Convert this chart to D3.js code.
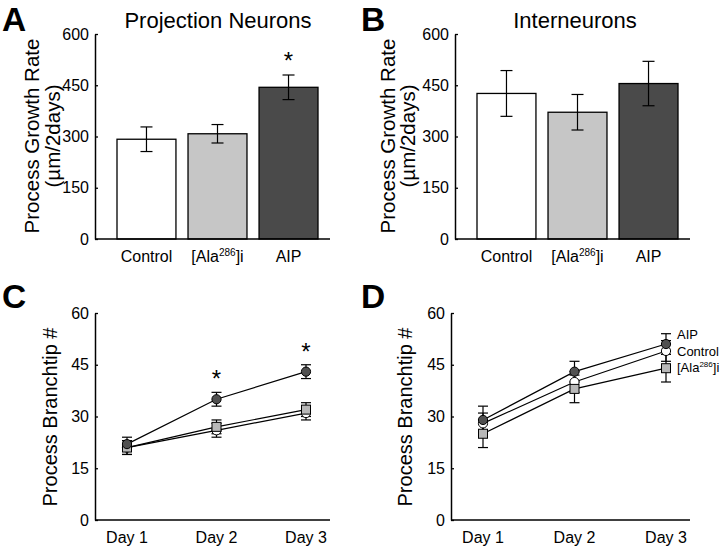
<!DOCTYPE html>
<html>
<head>
<meta charset="utf-8">
<script src="https://cdn.jsdelivr.net/npm/d3@7"></script>
<style>
  body { margin: 0; background: #fff; }
  svg { display: block; font-family: "Liberation Sans", Arial, sans-serif; }
</style>
</head>
<body>
<div id="chart"></div>
<script>
// ---- data ----
var groups = ['Control', 'Ala', 'AIP'];
var barFill = { Control: '#ffffff', Ala: '#c6c6c6', AIP: '#4a4a4a' };

// panel A: projection neurons, growth rate (um/2days)
var projRate = [292, 308, 444];
var projErr = [36, 27, 36];
// panel B: interneurons
var interRate = [426, 371, 455];
var interErr = [67, 52, 65];

var rateTicks = [0, 150, 300, 450, 600];
var countTicks = [0, 15, 30, 45, 60];
var days = ['Day 1', 'Day 2', 'Day 3'];

// panel C: projection neurons, branchtip number
var projTips = {
    Control: [21, 26, 31],
    Ala: [21, 27, 32],
    AIP: [22, 35, 43]
};
var projTipsErr = {
    Control: [2, 2, 2],
    Ala: [2, 2, 2],
    AIP: [2, 2, 2]
};
// panel D: interneurons, branchtip number
var interTips = {
    Control: [28, 40, 49],
    Ala: [25, 38, 44],
    AIP: [29, 43, 51]
};
var interTipsErr = {
    Control: [3, 3, 3],
    Ala: [4, 4, 4],
    AIP: [4, 3, 3]
};

var W = 720, H = 548;
var svg = d3.select('#chart').append('svg')
    .attr('width', W)
    .attr('height', H);

/**
 * label with [Ala286]i superscript
 */
function groupLabel(sel, g, size) {
    if (g === 'Ala') {
        sel.append('tspan').text('[Ala');
        sel.append('tspan').text('286')
            .attr('font-size', Math.round(size * 0.6) + 'px')
            .attr('dy', -size * 0.4);
        sel.append('tspan').text(']i')
            .attr('dy', size * 0.4);
    } else {
        sel.text(g);
    }
}

function drawYAxis(g, y, ticks, x0) {
    var ax = d3.axisLeft(y)
        .tickValues(ticks)
        .tickSizeInner(-3)
        .tickSizeOuter(0)
        .tickPadding(6);
    var a = g.append('g')
        .attr('transform', 'translate(' + x0 + ',0)')
        .call(ax);
    a.select('.domain').attr('stroke', '#000').attr('stroke-width', 1.5);
    a.selectAll('.tick line').attr('stroke', '#000').attr('stroke-width', 1.3);
    a.selectAll('.tick text')
        .attr('font-size', '16px')
        .attr('font-family', '"Liberation Sans", Arial, sans-serif')
        .attr('fill', '#000');
}

function drawXLine(g, x0, x1, yb) {
    g.append('line')
        .attr('x1', x0).attr('x2', x1)
        .attr('y1', yb).attr('y2', yb)
        .attr('stroke', '#000')
        .attr('stroke-width', 1.5);
}

function panelLetter(g, letter, x, y) {
    g.append('text')
        .attr('x', x).attr('y', y)
        .attr('font-size', '33.5px')
        .attr('font-weight', 'bold')
        .text(letter);
}

function yLabel(g, lines, xs, cy, size) {
    lines.forEach(function(t, i) {
        g.append('text')
            .attr('transform', 'translate(' + xs[i] + ',' + cy + ') rotate(-90)')
            .attr('text-anchor', 'middle')
            .attr('dy', '0.35em')
            .attr('font-size', size + 'px')
            .text(t);
    });
}

/**
 * Bar panel (A, B)
 */
function drawBarPanel(opt) {
    var g = svg.append('g');
    var y = d3.scaleLinear().domain([0, 600]).range([239, 34]);
    var x = d3.scaleBand().domain(groups)
        .range([opt.x0 + 22, opt.x1 - 12])
        .paddingInner(0.17)
        .paddingOuter(0);

    g.selectAll('rect.bar')
        .data(groups)
        .enter()
        .append('rect')
        .attr('class', 'bar')
        .attr('x', function(d) { return x(d); })
        .attr('width', x.bandwidth())
        .attr('y', function(d, i) { return y(opt.values[i]); })
        .attr('height', function(d, i) { return y(0) - y(opt.values[i]); })
        .attr('fill', function(d) { return barFill[d]; })
        .attr('stroke', '#000')
        .attr('stroke-width', 1.3);

    // error bars
    groups.forEach(function(d, i) {
        var cx = x(d) + x.bandwidth() / 2;
        var hi = y(opt.values[i] + opt.errs[i]);
        var lo = y(opt.values[i] - opt.errs[i]);
        g.append('line')
            .attr('x1', cx).attr('x2', cx)
            .attr('y1', hi).attr('y2', lo)
            .attr('stroke', '#000').attr('stroke-width', 1.2);
        [hi, lo].forEach(function(yy) {
            g.append('line')
                .attr('x1', cx - 6).attr('x2', cx + 6)
                .attr('y1', yy).attr('y2', yy)
                .attr('stroke', '#000').attr('stroke-width', 1.2);
        });
    });

    drawXLine(g, opt.x0, opt.x1, y(0));
    drawYAxis(g, y, rateTicks, opt.x0);

    groups.forEach(function(d) {
        var t = g.append('text')
            .attr('x', x(d) + x.bandwidth() / 2)
            .attr('y', 262)
            .attr('text-anchor', 'middle')
            .attr('font-size', '16px');
        groupLabel(t, d, 16);
    });

    if (opt.star != null) {
        var sx = x(groups[opt.star]) + x.bandwidth() / 2;
        g.append('text')
            .attr('x', sx).attr('y', 69)
            .attr('text-anchor', 'middle')
            .attr('font-size', '24px')
            .text('*');
    }

    g.append('text')
        .attr('x', opt.titleX).attr('y', 28)
        .attr('text-anchor', 'middle')
        .attr('font-size', '22px')
        .text(opt.title);

    panelLetter(g, opt.letter, opt.letterX, 30.5);
    yLabel(g, ['Process Growth Rate', '(\u00b5m/2days)'], opt.labelX, 136, 20.5);
}

/**
 * Line panel (C, D)
 */
function drawLinePanel(opt) {
    var g = svg.append('g');
    var y = d3.scaleLinear().domain([0, 60]).range([520, 313]);
    var x = d3.scalePoint().domain(days).range([opt.x0 + 32, opt.x1 - 24]);

    var line = d3.line()
        .x(function(d, i) { return x(days[i]); })
        .y(function(d) { return y(d); });

    var order = ['Control', 'Ala', 'AIP'];
    order.forEach(function(s) {
        g.append('path')
            .datum(opt.data[s])
            .attr('d', line)
            .attr('fill', 'none')
            .attr('stroke', '#000')
            .attr('stroke-width', 1.2);
    });

    // error bars
    order.forEach(function(s) {
        opt.data[s].forEach(function(v, i) {
            var cx = x(days[i]);
            var hi = y(v + opt.errs[s][i]);
            var lo = y(v - opt.errs[s][i]);
            g.append('line')
                .attr('x1', cx).attr('x2', cx)
                .attr('y1', hi).attr('y2', lo)
                .attr('stroke', '#000').attr('stroke-width', 1.2);
            [hi, lo].forEach(function(yy) {
                g.append('line')
                    .attr('x1', cx - 5).attr('x2', cx + 5)
                    .attr('y1', yy).attr('y2', yy)
                    .attr('stroke', '#000').attr('stroke-width', 1.2);
            });
        });
    });

    // markers
    order.forEach(function(s) {
        opt.data[s].forEach(function(v, i) {
            var cx = x(days[i]), cy = y(v);
            if (s === 'Ala') {
                g.append('rect')
                    .attr('x', cx - 4.5).attr('y', cy - 4.5)
                    .attr('width', 9).attr('height', 9)
                    .attr('fill', '#b8b8b8')
                    .attr('stroke', '#000').attr('stroke-width', 1);
            } else {
                g.append('circle')
                    .attr('cx', cx).attr('cy', cy).attr('r', 4.6)
                    .attr('fill', s === 'AIP' ? '#505050' : '#ffffff')
                    .attr('stroke', '#000').attr('stroke-width', 1);
            }
        });
    });

    drawXLine(g, opt.x0, opt.x1, y(0));
    drawYAxis(g, y, countTicks, opt.x0);

    days.forEach(function(d) {
        g.append('text')
            .attr('x', x(d))
            .attr('y', 543)
            .attr('text-anchor', 'middle')
            .attr('font-size', '16px')
            .text(d);
    });

    (opt.stars || []).forEach(function(i) {
        g.append('text')
            .attr('x', x(days[i]))
            .attr('y', y(opt.data.AIP[i] + opt.errs.AIP[i]) - 5)
            .attr('text-anchor', 'middle')
            .attr('font-size', '24px')
            .text('*');
    });

    if (opt.legend) {
        var legY = { AIP: 339, Control: 356, Ala: 372 };
        ['AIP', 'Control', 'Ala'].forEach(function(s) {
            var t = g.append('text')
                .attr('x', x(days[2]) + 11)
                .attr('y', legY[s])
                .attr('font-size', '13px');
            groupLabel(t, s, 13);
        });
    }

    panelLetter(g, opt.letter, opt.letterX, 308);
    yLabel(g, ['Process Branchtip #'], [opt.labelX], 417, 20);
}

drawBarPanel({
    letter: 'A', letterX: 2, x0: 95, x1: 330,
    values: projRate, errs: projErr, star: 2,
    title: 'Projection Neurons', titleX: 218,
    labelX: [32, 53]
});

drawBarPanel({
    letter: 'B', letterX: 361, x0: 455, x1: 690,
    values: interRate, errs: interErr, star: null,
    title: 'Interneurons', titleX: 575,
    labelX: [388, 408]
});

drawLinePanel({
    letter: 'C', letterX: 2, x0: 95, x1: 330,
    data: projTips, errs: projTipsErr, stars: [1, 2],
    labelX: 50
});

drawLinePanel({
    letter: 'D', letterX: 361, x0: 451, x1: 690,
    data: interTips, errs: interTipsErr, legend: true,
    labelX: 405
});
</script>
</body>
</html>
